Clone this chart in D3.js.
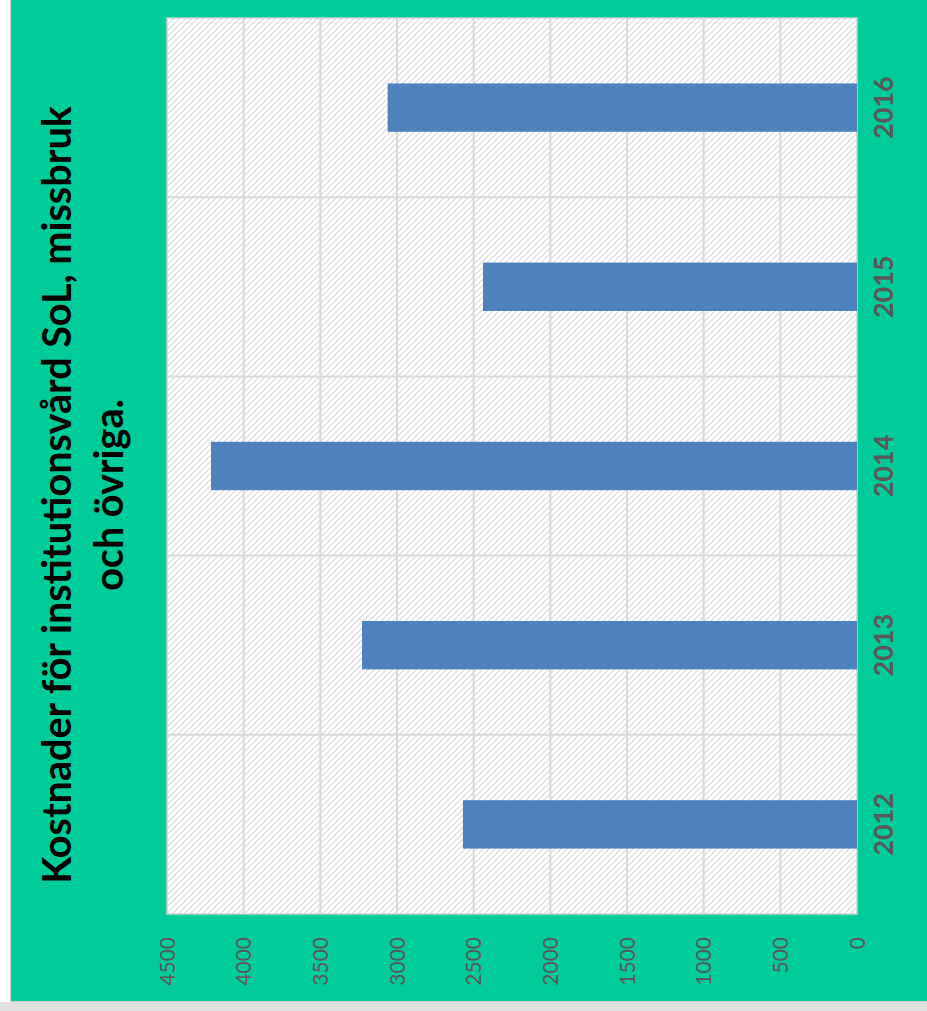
<!DOCTYPE html>
<html>
<head>
<meta charset="utf-8">
<script src="https://cdn.jsdelivr.net/npm/d3@7"></script>
<style>
  html, body { margin: 0; padding: 0; background: #ffffff; }
  svg { display: block; }
</style>
</head>
<body>
<svg id="chart" width="927" height="1011"></svg>
<script>
const titleLines = ["Kostnader för institutionsvård SoL, missbruk", "och övriga."];
const categories = ["2012", "2013", "2014", "2015", "2016"];
const values = [2570, 3228, 4213, 2439, 3061];
const valueTicks = [0, 500, 1000, 1500, 2000, 2500, 3000, 3500, 4000, 4500];

const svg = d3.select("#chart");
const W = 927, H = 1011;

// frame
svg.append("rect").attr("x", 0).attr("y", 1002).attr("width", W).attr("height", 9).attr("fill", "#e0e0e0");
svg.append("rect").attr("x", 10.5).attr("y", -1).attr("width", W).attr("height", 1002.5)
  .attr("fill", "#00cc99").attr("stroke", "#d0d0d0").attr("stroke-width", 1);

const plot = { left: 167, right: 857, top: 18, bottom: 914 };

// hatch pattern
const defs = svg.append("defs");
const pat = defs.append("pattern").attr("id", "hatch").attr("patternUnits", "userSpaceOnUse")
  .attr("width", 6).attr("height", 6);
pat.append("rect").attr("width", 6).attr("height", 6).attr("fill", "#ffffff");
pat.append("path").attr("d", "M-1,1 l2,-2 M0,6 l6,-6 M5,7 l2,-2")
  .attr("stroke", "#dedede").attr("stroke-width", 1.3);

svg.append("rect").attr("x", plot.left).attr("y", plot.top)
  .attr("width", plot.right - plot.left).attr("height", plot.bottom - plot.top)
  .attr("fill", "url(#hatch)");

// scales
const x = d3.scaleLinear().domain([0, 4500]).range([plot.right, plot.left]);
const y = d3.scaleBand().domain(categories).range([plot.bottom, plot.top])
  .paddingInner(0.73).paddingOuter(0.365);

// value gridlines
svg.append("g").selectAll("line").data(valueTicks.filter(d => d > 0 && d < 4500)).join("line")
  .attr("x1", d => x(d)).attr("x2", d => x(d))
  .attr("y1", plot.top).attr("y2", plot.bottom)
  .attr("stroke", "#d9d9d9").attr("stroke-width", 2);

// category gridlines
const step = y.step();
svg.append("g").selectAll("line").data(categories.slice(1)).join("line")
  .attr("x1", plot.left).attr("x2", plot.right)
  .attr("y1", (d, i) => plot.bottom - (i + 1) * step)
  .attr("y2", (d, i) => plot.bottom - (i + 1) * step)
  .attr("stroke", "#d9d9d9").attr("stroke-width", 2);

// plot border
svg.append("rect").attr("x", plot.left).attr("y", plot.top)
  .attr("width", plot.right - plot.left).attr("height", plot.bottom - plot.top)
  .attr("fill", "none").attr("stroke", "#d0d0d0").attr("stroke-width", 1.5);

// bars
svg.append("g").selectAll("rect").data(categories).join("rect")
  .attr("x", (d, i) => x(values[i]))
  .attr("y", d => y(d))
  .attr("width", (d, i) => x(0) - x(values[i]))
  .attr("height", y.bandwidth())
  .attr("fill", "#4f81bd");

// value axis labels (rotated)
const xAxis = d3.axisBottom(x).tickValues(valueTicks).tickSize(0).tickFormat(d3.format("d"));
const gx = svg.append("g").attr("transform", `translate(0,${plot.bottom})`).call(xAxis);
gx.select(".domain").remove();
gx.selectAll("text")
  .attr("font-family", "Lato, 'Open Sans', sans-serif").attr("font-size", 21)
  .attr("fill", "#595959")
  .attr("text-anchor", "end").attr("dy", null).attr("y", 0)
  .attr("transform", "translate(7,23) rotate(-90)");

// category axis labels (rotated)
const yAxis = d3.axisRight(y).tickSize(0);
const gy = svg.append("g").attr("transform", `translate(${plot.right},0)`).call(yAxis);
gy.select(".domain").remove();
gy.selectAll("text")
  .attr("font-family", "Lato, 'Open Sans', sans-serif").attr("font-size", 27).attr("font-weight", "bold")
  .attr("fill", "#595959")
  .attr("text-anchor", "middle").attr("x", 0).attr("dy", null)
  .attr("transform", "translate(36,0) rotate(-90)");

// title
const tg = svg.append("g");
const baseX = [71, 123];
titleLines.forEach((t, i) => {
  tg.append("text")
    .attr("transform", `translate(${baseX[i]},495) rotate(-90)`)
    .attr("text-anchor", "middle")
    .attr("font-family", "Lato, 'Open Sans', sans-serif").attr("font-weight", "bold")
    .attr("font-size", 38).attr("fill", "#000")
    .text(t);
});
const first = tg.select("text").node();
const len = first.getComputedTextLength();
const fs = 38 * 778 / len;
tg.selectAll("text").attr("font-size", fs);
</script>
</body>
</html>
